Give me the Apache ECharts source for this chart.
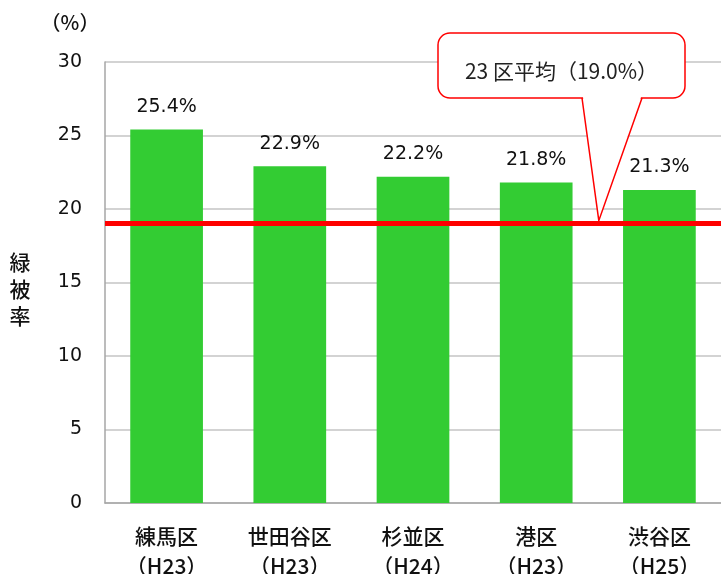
<!DOCTYPE html>
<html>
<head>
<meta charset="utf-8">
<script src="https://cdn.jsdelivr.net/npm/echarts@6/dist/echarts.min.js"></script>
<style>
  html, body { margin: 0; padding: 0; background: #fff; }
  #chart { width: 721px; height: 574px; }
</style>
</head>
<body>
<div id="chart"></div>
<script>
// 区名と調査年度
var categories = ['練馬区\n（H23）', '世田谷区\n（H23）', '杉並区\n（H24）', '港区\n（H23）', '渋谷区\n（H25）'];
// 緑被率（%）
var values = [25.4, 22.9, 22.2, 21.8, 21.3];
// 23区平均
var average = 19.0;
var averageText = '23 区平均（19.0%）';

var numFont = '"DejaVu Sans", "Noto Sans CJK JP", sans-serif';
var jpFont = '"Noto Sans CJK JP", sans-serif';

var myChart = echarts.init(document.getElementById('chart'));
myChart.setOption({
    animation: false,
    grid: { left: 105, right: 0, top: 62, bottom: 71, outerBoundsMode: 'none' },
    xAxis: {
        type: 'category',
        data: categories,
        axisLine: { lineStyle: { color: '#a6a6a6', width: 1.5 } },
        axisTick: { show: false },
        axisLabel: {
            color: '#111', fontSize: 21, fontFamily: jpFont, fontWeight: 500,
            lineHeight: 30, margin: 18
        }
    },
    yAxis: {
        type: 'value',
        min: 0, max: 30, interval: 5,
        axisLine: { show: true, lineStyle: { color: '#a6a6a6', width: 1.5 } },
        axisTick: { show: false },
        splitLine: { lineStyle: { color: '#c4c4c4', width: 1.5 } },
        axisLabel: { color: '#111', fontSize: 19, fontFamily: numFont, margin: 23 }
    },
    series: [{
        type: 'bar',
        data: values,
        barWidth: '59%',
        itemStyle: { color: '#33cc33' },
        label: {
            show: true, position: 'top', distance: 13,
            formatter: '{c}%', color: '#111', fontSize: 19, fontFamily: numFont
        },
        markLine: {
            silent: true,
            symbol: 'none',
            label: { show: false },
            lineStyle: { color: '#ff0000', width: 5, type: 'solid' },
            data: [{ yAxis: average }]
        }
    }]
});

// 吹き出し（港区と渋谷区の間で平均線を指す）
var c3 = myChart.convertToPixel({ xAxisIndex: 0, yAxisIndex: 0 }, [3, average]);
var c4 = myChart.convertToPixel({ xAxisIndex: 0, yAxisIndex: 0 }, [4, average]);
var tx = (c3[0] + c4[0]) / 2 + 1, ty = c3[1] - 3;
var bx = 438, by = 33, bw = 247, bh = 65;
var p1 = 582, p2 = 642;
myChart.setOption({
    graphic: [
        {
            type: 'text', x: 70, y: 22,
            style: { text: '（%）', fill: '#111', fontSize: 20, fontFamily: jpFont, fontWeight: 500,
                align: 'center', verticalAlign: 'middle' }
        },
        {
            type: 'text', x: 20, y: 289,
            style: { text: '緑\n被\n率', fill: '#111', fontSize: 21, lineHeight: 27, fontFamily: jpFont,
                fontWeight: 500, align: 'center', verticalAlign: 'middle' }
        },
        {
            type: 'rect', z: 100,
            shape: { x: bx, y: by, width: bw, height: bh, r: 12 },
            style: { fill: '#fff', stroke: '#ff0000', lineWidth: 1.5 }
        },
        {
            type: 'polygon', z: 101,
            shape: { points: [[p1 + 1, by + bh - 1], [tx, ty], [p2 - 1, by + bh - 1]] },
            style: { fill: '#fff' }
        },
        {
            type: 'polyline', z: 102,
            shape: { points: [[p1, by + bh], [tx, ty], [p2, by + bh]] },
            style: { fill: null, stroke: '#ff0000', lineWidth: 1.5 }
        },
        {
            type: 'text', z: 103, x: bx + bw / 2, y: by + 38,
            style: {
                text: averageText, fill: '#222', fontSize: 21, fontFamily: jpFont,
                align: 'center', verticalAlign: 'middle'
            }
        }
    ]
});
</script>
</body>
</html>
